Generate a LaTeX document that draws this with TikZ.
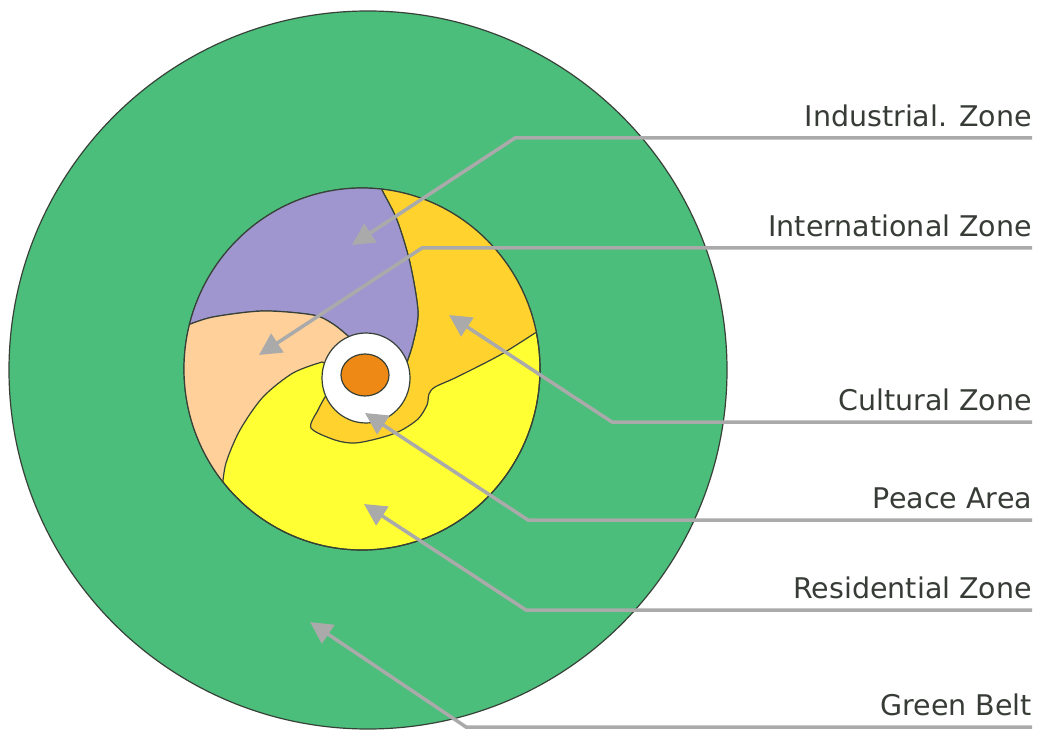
\documentclass[tikz,border=0pt]{standalone}
\usepackage{fontspec}
\newfontfamily\zonefamily{DejaVu Sans}
\usepackage{tikz}
\usetikzlibrary{positioning}
\usetikzlibrary{calc,arrows.meta}

\definecolor{BeltGreen}{RGB}{75,190,123}
\definecolor{ResYellow}{RGB}{255,255,51}
\definecolor{CultGold}{RGB}{255,210,46}
\definecolor{IndPurple}{RGB}{159,150,208}
\definecolor{IntPeach}{RGB}{255,208,154}
\definecolor{CoreOrange}{RGB}{237,137,20}
\definecolor{EdgeGray}{RGB}{55,65,55}
\definecolor{PointerGray}{RGB}{170,170,170}
\definecolor{LabelGray}{RGB}{55,60,55}

\tikzset{
	zoneline/.style={draw=EdgeGray, line width=1.2pt},
	pointer/.style={draw=PointerGray, line width=3.5pt, line join=miter,
		-{Triangle[length=22pt,width=22pt]}},
	zonelabel/.style={anchor=south east, inner sep=0pt, outer xsep=0pt,
		outer ysep=11pt, text=LabelGray,
		font=\zonefamily\fontsize{28.5}{34}\selectfont},
}

\begin{document}
\begin{tikzpicture}[x=1pt,y=-1pt]
	
	\fill[white] (0,0) rectangle (1039,730);
	\useasboundingbox (0,0) rectangle (1039,730);
	
	% centres of the rings, in pixel coordinates (y runs down)
	\coordinate (CBelt) at (368,370);
	\coordinate (CCity) at (362,369);
	\coordinate (CPeace) at (366,378);
	\coordinate (CCore) at (365,375);
	
	% green belt
	\filldraw[zoneline, fill=BeltGreen] (CBelt) circle[radius=359pt];
	
	% residential zone fills the whole inner disc first
	\filldraw[zoneline, fill=ResYellow] (CCity) circle[x radius=178pt, y radius=181pt];
	
	%%%%%%%%%%%%%%%%%%%%%%%%%%%%%%%%%%%%%%%%%%%%%%%%%%%%%%%%%%%%%%
	\begin{scope}
		\clip (CCity) circle[x radius=178pt, y radius=181pt];
		
		% cultural zone (wraps round below the peace area)
		\filldraw[zoneline, fill=CultGold] (CPeace)
			-- plot[smooth] coordinates {(407,362) (413,343) (418,312) (410,263) (397,220) (382,190) (376,175)}
			-- (560,170) -- (560,325)
			-- plot[smooth] coordinates {(535,333) (500,355) (457,377) (435,387) (429,394) (427,405) (418,419)
				(400,431) (380,438) (355,443) (335,440) (311,428) (318,410) (325,397)}
			-- cycle;
		
		% industrial zone
		\filldraw[zoneline, fill=IndPurple] (150,150) -- (150,330)
			-- plot[smooth] coordinates {(188,325) (213,317) (263,311) (313,315) (333,324) (348,336)}
			-- (CPeace)
			-- plot[smooth] coordinates {(407,362) (413,343) (418,312) (410,263) (397,220) (382,190) (376,175)}
			-- cycle;
		
		% international zone
		\filldraw[zoneline, fill=IntPeach] (CPeace)
			-- plot[smooth] coordinates {(348,336) (333,324) (313,315) (263,311) (213,317) (188,325)}
			-- (150,330) -- (150,520)
			-- plot[smooth] coordinates {(222,490) (226,463) (240,430) (263,397) (293,373) (322,362)}
			-- cycle;
	\end{scope}
	\draw[zoneline] (CCity) circle[x radius=178pt, y radius=181pt];
	
	% peace area and the core
	\filldraw[zoneline, fill=white] (CPeace) circle[x radius=44pt, y radius=45pt];
	\filldraw[zoneline, fill=CoreOrange] (CCore) circle[x radius=24pt, y radius=21pt];
	
	%%%%%%%%%%%%%%%%%%%%%%%%%%%%%%%%%%%%%%%%%%%%%%%%%%%%%%%%%%%%%%
	% labels: right aligned, the pointer line runs under each one
	\node[zonelabel] (Ind) at (1032,138) {Industrial. Zone};
	\node[zonelabel] (Int) at (1032,248) {International Zone};
	\node[zonelabel] (Cul) at (1032,422) {Cultural Zone};
	\node[zonelabel] (Pea) at (1032,520) {Peace Area};
	\node[zonelabel] (Res) at (1032,610) {Residential Zone};
	\node[zonelabel] (Gre) at (1032,727) {Green Belt};
	
	% bends and arrow tips
	\coordinate (IndBend) at (515,138);  \coordinate (IndTip) at (352,245);
	\coordinate (IntBend) at (422,248);  \coordinate (IntTip) at (259,355);
	\coordinate (CulBend) at (612,422);  \coordinate (CulTip) at (449,315);
	\coordinate (PeaBend) at (528,520);  \coordinate (PeaTip) at (365,413);
	\coordinate (ResBend) at (526,610);  \coordinate (ResTip) at (364,504);
	\coordinate (GreBend) at (466,727);  \coordinate (GreTip) at (310,622);
	
	\draw[pointer] (Ind.south east) -- (IndBend) -- (IndTip);
	\draw[pointer] (Int.south east) -- (IntBend) -- (IntTip);
	\draw[pointer] (Cul.south east) -- (CulBend) -- (CulTip);
	\draw[pointer] (Pea.south east) -- (PeaBend) -- (PeaTip);
	\draw[pointer] (Res.south east) -- (ResBend) -- (ResTip);
	\draw[pointer] (Gre.south east) -- (GreBend) -- (GreTip);
	
\end{tikzpicture}
\end{document}
